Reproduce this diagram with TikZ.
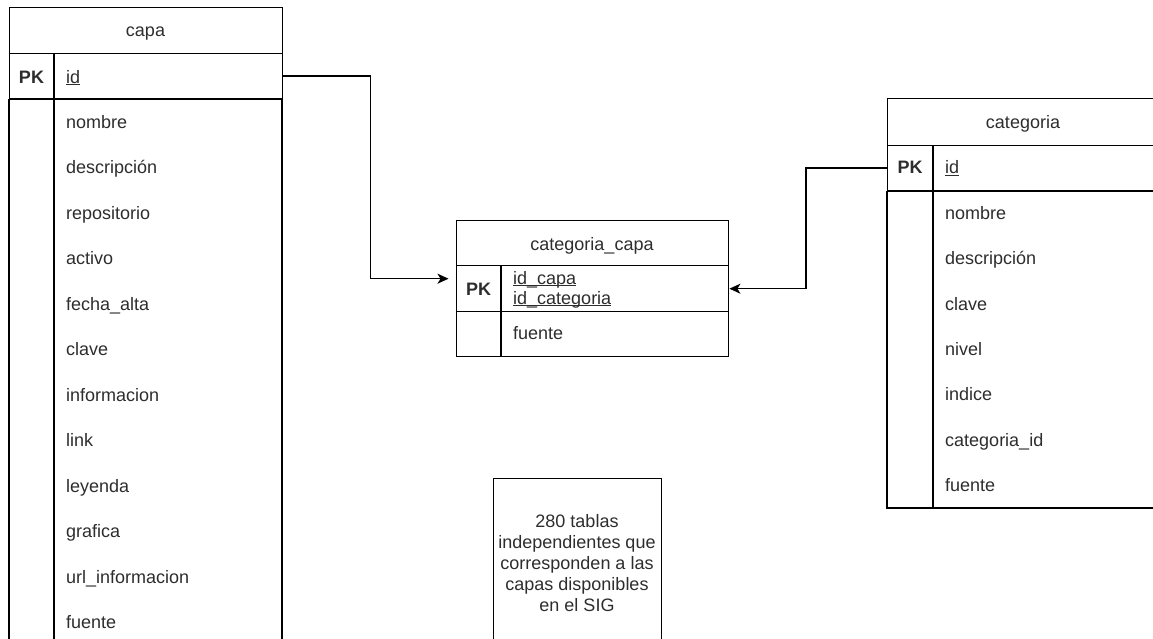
\documentclass[tikz,border=0pt]{standalone}
\usepackage{fontspec}
\setmainfont{Liberation Sans}
\usetikzlibrary{arrows.meta,positioning}
\definecolor{txtgray}{RGB}{45,45,45}
\newcommand{\ul}[1]{\underline{\smash{#1}}}
\tikzset{
	box/.style={draw, line width=1.4pt, anchor=north west, inner sep=0pt},
	tbl/.style={draw, line width=1.4pt},
	ttl/.style={anchor=base, inner sep=0pt, text=txtgray, font=\fontsize{18}{22}\selectfont},
	pk/.style={anchor=base, inner sep=0pt, text=txtgray, font=\fontsize{18}{22}\selectfont\bfseries},
	fld/.style={anchor=base west, inner sep=0pt, text=txtgray, font=\fontsize{18}{22}\selectfont},
	link/.style={line width=1.4pt, -{Stealth[length=11pt,width=10pt,inset=3pt]}}
}
\begin{document}
\begin{tikzpicture}[x=1pt,y=-1pt]
		\clip (0,0) rectangle (1153,639);

		% tabla capa
		\node[box, minimum width=273pt, minimum height=46pt] (capa) at (9,7) {};
		\node[box, minimum width=273pt, minimum height=45pt] (capapk) at (9,53) {};
		\draw[tbl] (capapk.south west) rectangle (282,660);
		\draw[tbl] (54,53) -- (54,660);
		\node[ttl] (capat) at (145.5,36.7) {capa};
		\node[pk] (capapkt) at (31.5,83.3) {PK};
		\node[fld] (capaid) at (66,83.3) {\ul{id}};
		\foreach \t [count=\i] in {nombre,descripción,repositorio,activo,fecha\_alta,clave,informacion,link,leyenda,grafica,url\_informacion,fuente}
		\node[fld] (capaf\i) at (66,{128.3+45.5*(\i-1)}) {\t};

		% tabla categoria_capa
		\node[box, minimum width=272pt, minimum height=45pt] (catcapa) at (456,220) {};
		\node[box, minimum width=272pt, minimum height=46pt] (catcapapk) at (456,265) {};
		\node[box, minimum width=272pt, minimum height=45pt] (catcapafld) at (456,311) {};
		\draw[tbl] (501,265) -- (501,356);
		\node[ttl] (catcapat) at (592,250) {categoria\_capa};
		\node[pk] (catcapapkt) at (478.5,295) {PK};
		\node[fld] (catcapaid1) at (513,284) {\ul{id\_capa}};
		\node[fld] (catcapaid2) at (513,304) {\ul{id\_categoria}};
		\node[fld] (catcapaf1) at (513,339.3) {fuente};

		% tabla categoria
		\node[box, minimum width=272pt, minimum height=47pt] (categoria) at (887,98) {};
		\node[box, minimum width=272pt, minimum height=45pt] (catpk) at (887,145) {};
		\draw[tbl] (catpk.south west) rectangle (1159,508);
		\draw[tbl] (933,145) -- (933,508);
		\node[ttl] (categoriat) at (1023,128.3) {categoria};
		\node[pk] (catpkt) at (910,174) {PK};
		\node[fld] (catid) at (945,174) {\ul{id}};
		\foreach \t [count=\i] in {nombre,descripción,clave,nivel,indice,categoria\_id,fuente}
		\node[fld] (catf\i) at (945,{219.3+45.4*(\i-1)}) {\t};

		% nota
		\node[box, minimum width=168pt, minimum height=170pt] (nota) at (493,478) {};
		\node[anchor=north, align=center, inner sep=0pt, text=txtgray, font=\fontsize{18}{21}\selectfont] (notat) at (577,514.5) {280 tablas\\independientes que\\corresponden a las\\capas disponibles\\en el SIG};

		% relaciones
		\draw[link, shorten >=7.5pt] (capapk.east) -- ++(87,0) |- ([yshift=10pt]catcapapk.west);
		\draw[link] (catpk.west) -- ++(-81,0) |- (catcapapk.east);

	\end{tikzpicture}
\end{document}
